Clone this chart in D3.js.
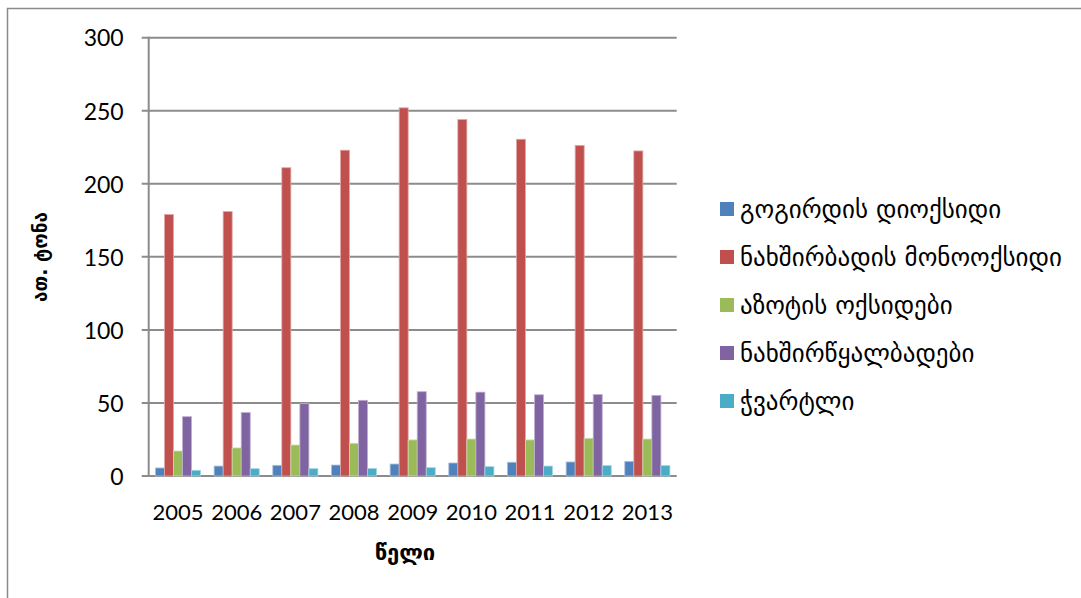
<!DOCTYPE html>
<html>
<head>
<meta charset="utf-8">
<script src="https://cdn.jsdelivr.net/npm/d3@7/dist/d3.min.js"></script>
<style>
  html, body { margin: 0; padding: 0; background: #fff; }
  svg { display: block; }
</style>
</head>
<body>
<svg id="chart" width="1081" height="598"></svg>
<script>
// Emissions by year, thousand tonnes
const years = ["2005", "2006", "2007", "2008", "2009", "2010", "2011", "2012", "2013"];
const seriesNames = [
  "გოგირდის დიოქსიდი",
  "ნახშირბადის მონოოქსიდი",
  "აზოტის ოქსიდები",
  "ნახშირწყალბადები",
  "ჭვარტლი"
];
const sulfurDioxide   = [5.5, 6.8, 7.3, 7.5, 8.2, 8.9, 9.4, 9.6, 10.0];
const carbonMonoxide  = [179, 181, 211, 223, 252, 244, 230.5, 226.3, 222.5];
const nitrogenOxides  = [17.1, 19.2, 21.2, 22.4, 24.7, 25.3, 24.7, 25.8, 25.3];
const hydrocarbons    = [40.6, 43.4, 49.5, 51.8, 57.7, 57.4, 55.6, 55.8, 55.2];
const soot            = [3.9, 5.0, 5.0, 5.2, 5.7, 6.4, 6.8, 7.1, 7.1];
const yTicks = [0, 50, 100, 150, 200, 250, 300];
const yTitle = "ათ. ტონა";
const xTitle = "წელი";

const colors = ["#4F81BD", "#C0504D", "#9BBB59", "#8064A2", "#4BACC6"];
const edges  = ["#a9c0de", "#e0a8a6", "#cddcac", "#bfb1d0", "#a5d5e2"];
const allSeries = [sulfurDioxide, carbonMonoxide, nitrogenOxides, hydrocarbons, soot];

const numFont = "Lato, 'Open Sans', sans-serif";
const geoFont = "'DejaVu Sans', sans-serif";

const svg = d3.select("#chart");

// chart frame (left and top edges visible)
svg.append("path")
  .attr("d", "M7.5,598 L7.5,8.5 L1081,8.5")
  .attr("fill", "none")
  .attr("stroke", "#8a8a8a")
  .attr("stroke-width", 1.5);

const plot = { left: 148.7, right: 676.7, top: 37.7, bottom: 476 };

const x = d3.scaleBand()
  .domain(years)
  .range([plot.left, plot.right])
  .paddingInner(0)
  .paddingOuter(0);

const y = d3.scaleLinear()
  .domain([0, 300])
  .range([plot.bottom, plot.top]);

// gridlines
svg.append("g")
  .selectAll("line")
  .data(yTicks)
  .join("line")
  .attr("x1", plot.left - 7)
  .attr("x2", plot.right)
  .attr("y1", d => y(d))
  .attr("y2", d => y(d))
  .attr("stroke", "#8c8c8c")
  .attr("stroke-width", 2);

// y axis labels
const yAxis = d3.axisLeft(y).tickValues(yTicks).tickSize(0).tickPadding(0);
const yg = svg.append("g")
  .attr("transform", `translate(${plot.left - 25},0)`)
  .call(yAxis);
yg.select(".domain").remove();
yg.selectAll("text")
  .attr("font-family", numFont)
  .attr("font-size", 23)
  .attr("fill", "#000")
  .attr("dy", "0.36em");

// bars: five series side by side in each year band, gap of 1.5 bar widths
const barW = x.bandwidth() / 6.5;
allSeries.forEach((vals, si) => {
  svg.append("g")
    .selectAll("rect")
    .data(vals)
    .join("rect")
    .attr("x", (d, i) => x(years[i]) + barW * 0.75 + si * barW)
    .attr("width", barW)
    .attr("y", d => y(d))
    .attr("height", d => y(0) - y(d))
    .attr("fill", colors[si])
    .attr("stroke", edges[si])
    .attr("stroke-width", 0.8);
});

// y axis line
svg.append("line")
  .attr("x1", plot.left).attr("x2", plot.left)
  .attr("y1", plot.top - 1).attr("y2", plot.bottom + 1)
  .attr("stroke", "#8c8c8c")
  .attr("stroke-width", 2);

// x axis labels
const xAxis = d3.axisBottom(x).tickSize(0).tickPadding(0);
const xg = svg.append("g")
  .attr("transform", `translate(0,${plot.bottom + 44})`)
  .call(xAxis);
xg.select(".domain").remove();
xg.selectAll("text")
  .attr("font-family", numFont)
  .attr("font-size", 22)
  .attr("fill", "#000")
  .attr("dy", 0);

// axis titles
svg.append("text")
  .attr("transform", "translate(47,257) rotate(-90)")
  .attr("text-anchor", "middle")
  .attr("font-family", geoFont)
  .attr("font-size", 19)
  .attr("font-weight", "bold")
  .attr("fill", "#000")
  .text(yTitle);

svg.append("text")
  .attr("x", 405)
  .attr("y", 560)
  .attr("text-anchor", "middle")
  .attr("font-family", geoFont)
  .attr("font-size", 22)
  .attr("font-weight", "bold")
  .attr("fill", "#000")
  .text(xTitle);

// legend
const legend = svg.append("g").attr("transform", "translate(720,209)");
const rows = legend.selectAll("g")
  .data(seriesNames)
  .join("g")
  .attr("transform", (d, i) => `translate(0,${i * 48})`);
rows.append("rect")
  .attr("x", 0).attr("y", -7)
  .attr("width", 14).attr("height", 14)
  .attr("fill", (d, i) => colors[i]);
rows.append("text")
  .attr("x", 20)
  .attr("y", 0)
  .attr("dy", "0.35em")
  .attr("font-family", geoFont)
  .attr("font-size", 25)
  .attr("fill", "#000")
  .text(d => d);
</script>
</body>
</html>
